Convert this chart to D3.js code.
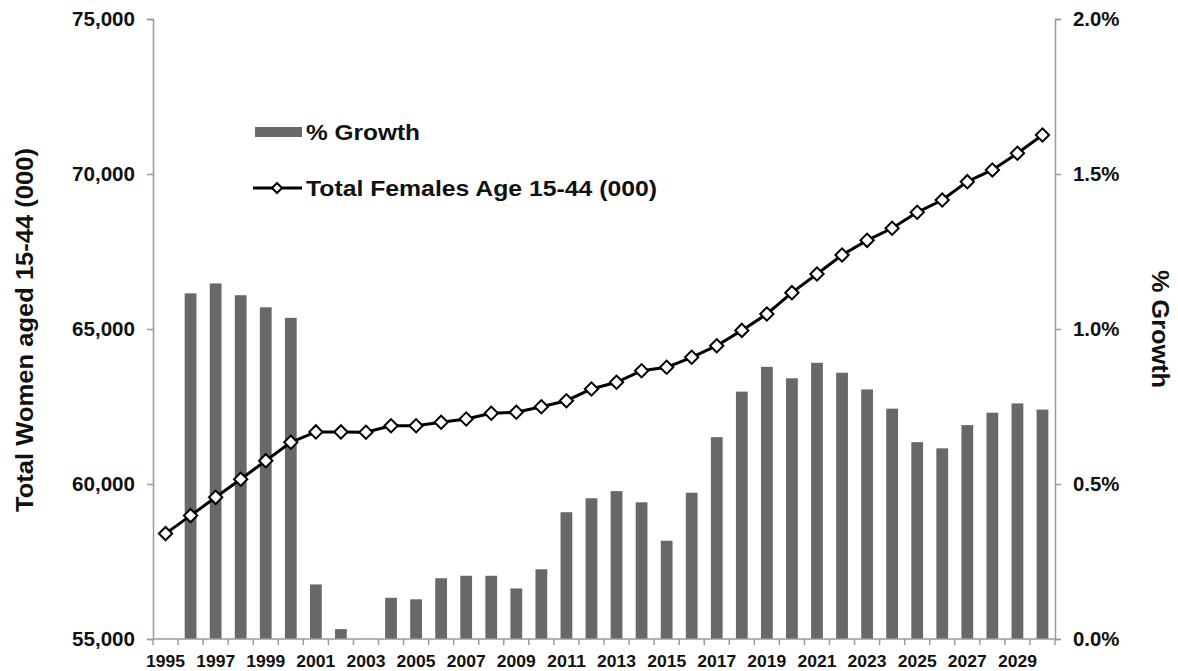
<!DOCTYPE html>
<html>
<head>
<meta charset="utf-8">
<script src="https://cdn.jsdelivr.net/npm/d3@7"></script>
<style>
  html, body { margin: 0; padding: 0; background: #fff; }
  svg { display: block; font-family: "Liberation Sans", Arial, sans-serif; font-weight: bold; }
</style>
</head>
<body>
<svg id="chart" width="1178" height="671"></svg>
<script>
const years = d3.range(1995, 2031);
const growthPct = [null, 1.115, 1.147, 1.109, 1.070, 1.036, 0.176, 0.032, 0.0, 0.133,
  0.128, 0.196, 0.204, 0.204, 0.163, 0.225, 0.409, 0.454, 0.477, 0.441,
  0.317, 0.472, 0.651, 0.798, 0.878, 0.841, 0.891, 0.859, 0.805, 0.743,
  0.635, 0.615, 0.690, 0.730, 0.760, 0.740];
const totalFemales = [58400, 58980, 59570, 60155, 60752, 61345, 61680, 61680, 61668, 61881,
  61881, 61990, 62097, 62281, 62313, 62490, 62687, 63065, 63281, 63655,
  63765, 64087, 64462, 64955, 65484, 66172, 66775, 67388, 67860, 68249,
  68765, 69162, 69753, 70130, 70668, 71259];
const leftTicks = [55000, 60000, 65000, 70000, 75000];
const rightTicks = [0, 0.005, 0.01, 0.015, 0.02];
const xLabels = years.filter(y => (y - 1995) % 2 === 0);

const svg = d3.select("#chart");
const L = 153, R = 1055, T = 19, B = 639;
const axisColor = "#9a9a9a";

const x = d3.scaleBand().domain(years).range([L, R]).padding(0);
const yL = d3.scaleLinear().domain([55000, 75000]).range([B, T]);
const yR = d3.scaleLinear().domain([0, 0.02]).range([B, T]);

// bars
const bw = x.bandwidth() * 0.47;
svg.append("g").selectAll("rect")
  .data(years.map((yr, i) => ({yr, v: growthPct[i]})).filter(d => d.v !== null && d.v > 0))
  .join("rect")
  .attr("x", d => x(d.yr) + x.bandwidth() / 2 - bw / 2)
  .attr("width", bw)
  .attr("y", d => yR(d.v / 100))
  .attr("height", d => B - yR(d.v / 100))
  .attr("fill", "#686868");

// axes
const gL = svg.append("g").attr("transform", `translate(${L},0)`)
  .call(d3.axisLeft(yL).tickValues(leftTicks).tickFormat(d3.format(",")).tickSize(6).tickPadding(12));
const gR = svg.append("g").attr("transform", `translate(${R},0)`)
  .call(d3.axisRight(yR).tickValues(rightTicks).tickFormat(d3.format(".1%")).tickSize(6).tickPadding(12));
const gX = svg.append("g").attr("transform", `translate(0,${B})`)
  .call(d3.axisBottom(x).tickValues(xLabels).tickSize(0).tickPadding(16));

[gL, gR, gX].forEach(g => {
  g.select(".domain").attr("stroke", axisColor).attr("stroke-width", 1.5);
  g.selectAll(".tick line").attr("stroke", axisColor).attr("stroke-width", 1.5);
  g.selectAll(".tick text").attr("fill", "#111").attr("font-weight", "bold")
   .attr("font-family", "Liberation Sans, Arial, sans-serif");
});
gL.selectAll(".tick text").attr("font-size", 20).attr("textLength", 63).attr("lengthAdjust", "spacingAndGlyphs");
gR.selectAll(".tick text").attr("font-size", 20).attr("textLength", 46.5).attr("lengthAdjust", "spacingAndGlyphs");
gX.selectAll(".tick text").attr("font-size", 17).attr("textLength", 39).attr("lengthAdjust", "spacingAndGlyphs");
gX.select(".domain").attr("d", `M${L},0H${R}`);

// x ticks at band boundaries
const bounds = years.map(yr => x(yr)).concat([R]);
svg.append("g").selectAll("line").data(bounds).join("line")
  .attr("x1", d => d).attr("x2", d => d)
  .attr("y1", B).attr("y2", B + 6)
  .attr("stroke", axisColor).attr("stroke-width", 1.5);

// line
const pts = years.map((yr, i) => ({yr, v: totalFemales[i]}));
const cx = d => x(d.yr) + x.bandwidth() / 2;
svg.append("path").datum(pts)
  .attr("fill", "none").attr("stroke", "#000").attr("stroke-width", 3)
  .attr("d", d3.line().x(cx).y(d => yL(d.v)));

svg.append("g").selectAll("path").data(pts).join("path")
  .attr("d", d3.symbol().type(d3.symbolSquare).size(88))
  .attr("transform", d => `translate(${cx(d)},${yL(d.v)}) rotate(45)`)
  .attr("fill", "#fff").attr("stroke", "#000").attr("stroke-width", 2);

// axis titles
svg.append("text")
  .attr("transform", `translate(33,330) rotate(-90)`)
  .attr("text-anchor", "middle").attr("font-size", 24).attr("fill", "#111")
  .attr("textLength", 364).attr("lengthAdjust", "spacingAndGlyphs")
  .text("Total Women aged 15-44 (000)");
svg.append("text")
  .attr("transform", `translate(1152,329) rotate(90)`)
  .attr("text-anchor", "middle").attr("font-size", 24).attr("fill", "#111")
  .attr("textLength", 118).attr("lengthAdjust", "spacingAndGlyphs")
  .text("% Growth");

// legend
const lg = svg.append("g");
lg.append("rect").attr("x", 255).attr("y", 127).attr("width", 47).attr("height", 10).attr("fill", "#686868");
lg.append("text").attr("x", 306).attr("y", 140).attr("font-size", 22).attr("fill", "#111")
  .attr("textLength", 114).attr("lengthAdjust", "spacingAndGlyphs").text("% Growth");
lg.append("line").attr("x1", 253).attr("x2", 302).attr("y1", 188).attr("y2", 188)
  .attr("stroke", "#000").attr("stroke-width", 3);
lg.append("path").attr("d", d3.symbol().type(d3.symbolSquare).size(50))
  .attr("transform", "translate(277,188) rotate(45)")
  .attr("fill", "#fff").attr("stroke", "#000").attr("stroke-width", 2);
lg.append("text").attr("x", 306).attr("y", 196).attr("font-size", 22).attr("fill", "#111")
  .attr("textLength", 351).attr("lengthAdjust", "spacingAndGlyphs").text("Total Females Age 15-44 (000)");
</script>
</body>
</html>
